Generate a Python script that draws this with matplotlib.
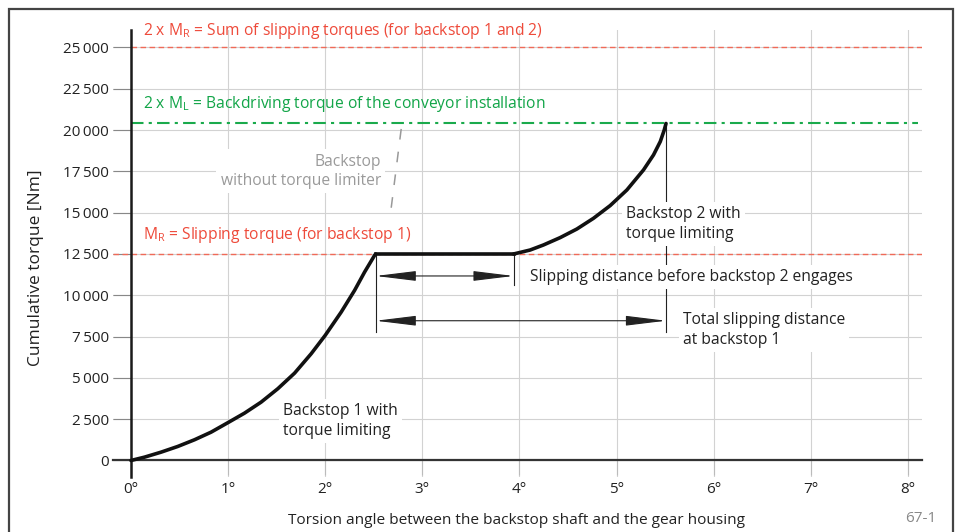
import matplotlib
matplotlib.use("Agg")
import matplotlib.pyplot as plt
from matplotlib.patches import Rectangle

FONT = "Open Sans"
plt.rcParams['font.family'] = [FONT, 'DejaVu Sans']
plt.rcParams['mathtext.fontset'] = 'custom'
plt.rcParams['mathtext.rm'] = FONT
plt.rcParams['mathtext.it'] = FONT
plt.rcParams['mathtext.bf'] = FONT

# ---- data ----
x_ticks = [0, 1, 2, 3, 4, 5, 6, 7, 8]
x_tick_labels = ["0°", "1°", "2°", "3°", "4°", "5°", "6°", "7°", "8°"]
y_ticks = [0, 2500, 5000, 7500, 10000, 12500, 15000, 17500, 20000, 22500, 25000]
y_tick_labels = ["0", "2\u2009500", "5\u2009000", "7\u2009500", "10\u2009000", "12\u2009500",
                 "15\u2009000", "17\u2009500", "20\u2009000", "22\u2009500", "25\u2009000"]

bs1_angle = [0.0, 0.138, 0.309, 0.481, 0.654, 0.825, 1.007, 1.169, 1.340, 1.512, 1.685,
             1.856, 2.0, 2.165, 2.303, 2.406, 2.509, 2.52]
bs1_torque = [0, 200, 503, 848, 1254, 1715, 2320, 2866, 3532, 4344, 5289,
              6464, 7573, 8985, 10300, 11408, 12420, 12500]

slip_angle = [2.52, 3.94]
slip_torque = [12500, 12500]

bs2_angle = [3.94, 4.110, 4.247, 4.420, 4.592, 4.763, 4.935, 5.107, 5.278, 5.381,
             5.451, 5.492, 5.51]
bs2_torque = [12500, 12740, 13044, 13492, 14013, 14661, 15431, 16376, 17588, 18496,
              19308, 20011, 20400]

nolim_angle = [2.68, 2.79]
nolim_torque = [15300, 20400]

M_R = 12500        # slipping torque backstop 1
M_R2 = 25000       # sum of slipping torques
M_L2 = 20400       # backdriving torque

slip1_start, slip1_end, slip1_level = 2.52, 3.94, 11170
total_start, total_end, total_level = 2.52, 5.51, 8460

# ---- figure ----
fig = plt.figure(figsize=(9.6, 5.32), dpi=100)
ax = fig.add_axes([113/960, 1-477/532, 809/960, 447/532])
ax.set_xlim(-0.185, 8.146)
ax.set_ylim(-999, 26059)

ax.spines['top'].set_visible(False)
ax.spines['right'].set_visible(False)
ax.spines['left'].set_position(('data', 0))
ax.spines['bottom'].set_position(('data', 0))
ax.spines['left'].set_linewidth(1.8)
ax.spines['left'].set_color('#1a1a1a')
ax.spines['bottom'].set_linewidth(1.6)
ax.spines['bottom'].set_color('#333333')

ax.set_xticks(x_ticks)
ax.set_xticklabels(x_tick_labels, fontsize=11, color='#222')
ax.set_yticks(y_ticks)
ax.set_yticklabels(y_tick_labels, fontsize=11, color='#222')
ax.tick_params(axis='y', direction='out', length=13, width=0.8, color='#888', pad=3)
ax.tick_params(axis='x', direction='out', length=10.5, width=0.8, color='#bbb', pad=5)

ax.grid(True, color='#d2d2d2', lw=0.8, zorder=0)
ax.set_axisbelow(True)

# reference lines
red_c = '#f06a58'
ax.plot([0, 8.146], [M_R2, M_R2], color=red_c, lw=1.0, ls=(0, (4, 2.5)), zorder=2)
ax.plot([-0.185, 8.146], [M_R, M_R], color=red_c, lw=1.0, ls=(0, (4, 2.5)), zorder=2)
ax.plot([0, 8.10], [M_L2, M_L2], color='#1aaa4c', lw=1.5, ls=(0, (6, 2.5, 1.5, 2.5)), zorder=2)

# gray dashed curve (no torque limiter)
ax.plot(nolim_angle, nolim_torque, color='#999999', lw=1.1, ls=(0, (7, 8)), zorder=3)

# dimension lines
dim_c = '#222222'
ax.plot([slip1_start, slip1_start], [M_R, 7780], color=dim_c, lw=0.8, zorder=3)
ax.plot([slip1_end, slip1_end], [M_R, 10620], color=dim_c, lw=0.8, zorder=3)
ax.plot([total_end, total_end], [M_L2, 7780], color=dim_c, lw=0.8, zorder=3)
arrow_style = '<|-|>,head_length=1.8,head_width=0.22'
ax.annotate('', xy=(slip1_end, slip1_level), xytext=(slip1_start, slip1_level),
            arrowprops=dict(arrowstyle=arrow_style, color=dim_c, lw=0.8,
                            shrinkA=0, shrinkB=0, mutation_scale=14), zorder=3)
ax.annotate('', xy=(total_end, total_level), xytext=(total_start, total_level),
            arrowprops=dict(arrowstyle=arrow_style, color=dim_c, lw=0.8,
                            shrinkA=0, shrinkB=0, mutation_scale=14), zorder=3)

# main curves
ax.plot(bs1_angle, bs1_torque, color='#111', lw=2.6, zorder=5, solid_capstyle='round',
        solid_joinstyle='round')
ax.plot(slip_angle, slip_torque, color='#111', lw=2.6, zorder=5)
ax.plot(bs2_angle, bs2_torque, color='#111', lw=2.6, zorder=5, solid_capstyle='round',
        solid_joinstyle='round')

# texts
fs = 11.25
white = dict(facecolor='white', edgecolor='none', pad=3)
ax.text(0.124, 26000, r"2 x M$_{\rm R}$ = Sum of slipping torques (for backstop 1 and 2)",
        color='#ee4a3a', fontsize=fs, va='center', ha='left', clip_on=False, zorder=6)
ax.text(0.124, 21580, r"2 x M$_{\rm L}$ = Backdriving torque of the conveyor installation",
        color='#12a548', fontsize=fs, va='center', ha='left', zorder=6)
ax.text(0.124, 13650, r"M$_{\rm R}$ = Slipping torque (for backstop 1)",
        color='#ee4a3a', fontsize=fs, va='center', ha='left', zorder=6)
ax.text(2.575, 17500, "Backstop\nwithout torque limiter", color='#9a9a9a', fontsize=fs,
        ha='right', va='center', multialignment='right', linespacing=1.3, bbox=white, zorder=4)
ax.text(1.565, 2390, "Backstop 1 with\ntorque limiting", color='#222', fontsize=fs,
        ha='left', va='center', linespacing=1.3, bbox=white, zorder=4)
ax.text(5.10, 14320, "Backstop 2 with\ntorque limiting", color='#222', fontsize=fs,
        ha='left', va='center', linespacing=1.3, bbox=white, zorder=4)
ax.text(4.11, 11110, "Slipping distance before backstop 2 engages", color='#222', fontsize=fs,
        ha='left', va='center', bbox=white, zorder=4)
ax.text(5.685, 7900, "Total slipping distance\nat backstop 1", color='#222', fontsize=fs,
        ha='left', va='center', linespacing=1.3, bbox=white, zorder=4)

fig.text(36/960, 1-268/532, "Cumulative torque [Nm]", rotation=90, ha='center', va='center',
         fontsize=12.5, color='#222')
fig.text(517/960, 1-521/532, "Torsion angle between the backstop shaft and the gear housing",
         ha='center', va='center', fontsize=11.1, color='#222')
fig.text(921/960, 1-519/532, "67-1", ha='center', va='center', fontsize=11, color='#888')

fig.add_artist(Rectangle((9/960, -0.05), (953-9)/960, 1.05-9/532, transform=fig.transFigure,
                         fill=False, edgecolor='#444', lw=1.6))

fig.savefig("out.png", dpi=100)
